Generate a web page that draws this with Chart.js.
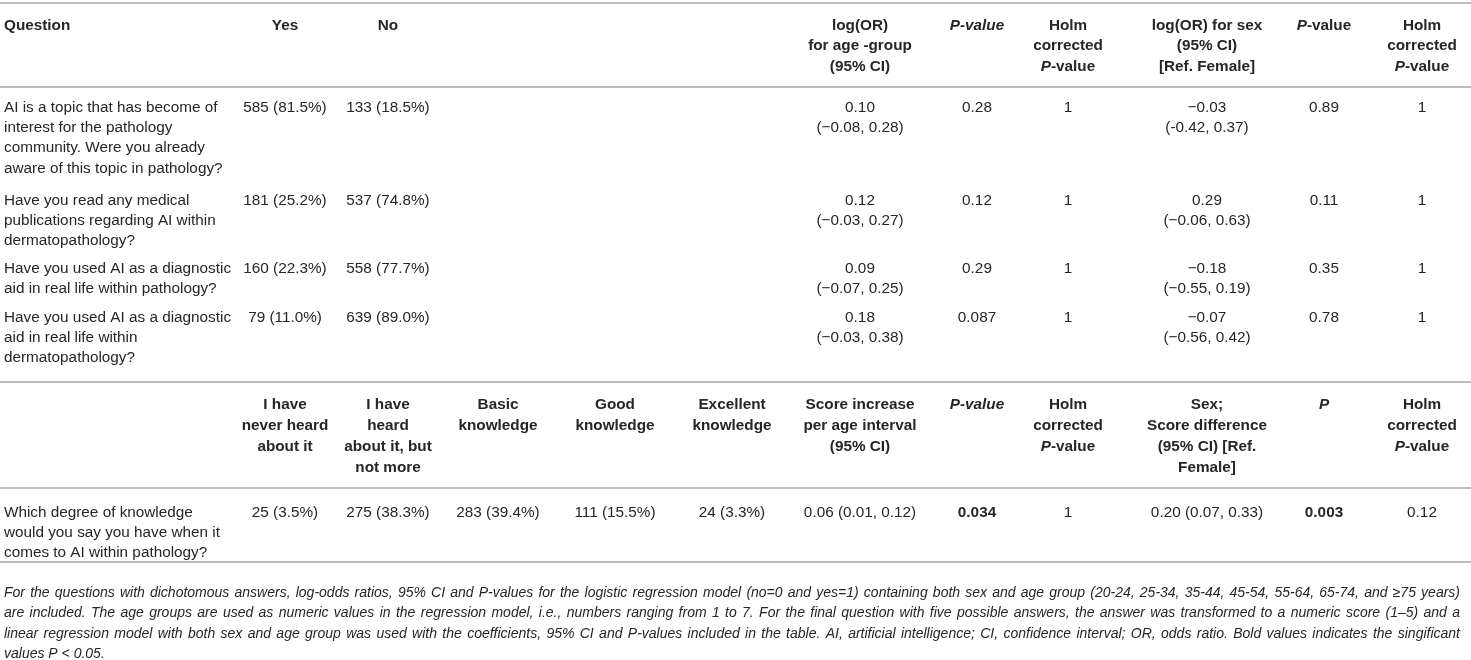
<!DOCTYPE html>
<html>
<head>
<meta charset="utf-8">
<script src="https://cdn.jsdelivr.net/npm/chart.js@4.4.1/dist/chart.umd.min.js"></script>
<style>
  html, body { margin: 0; padding: 0; background: #fff; }
  canvas { display: block; }
</style>
</head>
<body>
<canvas id="tableChart" width="1471" height="660"></canvas>
<script>
// Dichotomous questions (yes / no)
const questions = [
  ["AI is a topic that has become of", "interest for the pathology", "community. Were you already", "aware of this topic in pathology?"],
  ["Have you read any medical", "publications regarding AI within", "dermatopathology?"],
  ["Have you used AI as a diagnostic", "aid in real life within pathology?"],
  ["Have you used AI as a diagnostic", "aid in real life within", "dermatopathology?"],
];
const yesCounts = [585, 181, 160, 79];
const yesPct = [81.5, 25.2, 22.3, 11.0];
const noCounts = [133, 537, 558, 639];
const noPct = [18.5, 74.8, 77.7, 89.0];

// logistic regression, age group
const ageLogOR = [0.10, 0.12, 0.09, 0.18];
const ageCiLow = [-0.08, -0.03, -0.07, -0.03];
const ageCiHigh = [0.28, 0.27, 0.25, 0.38];
const ageP = [0.28, 0.12, 0.29, 0.087];
const ageHolm = [1, 1, 1, 1];

// logistic regression, sex
const sexLogOR = [-0.03, 0.29, -0.18, -0.07];
const sexCiLow = [-0.42, -0.06, -0.55, -0.56];
const sexCiHigh = [0.37, 0.63, 0.19, 0.42];
const sexCiMinus = ["-", "\u2212", "\u2212", "\u2212"];
const sexP = [0.89, 0.11, 0.35, 0.78];
const sexHolm = [1, 1, 1, 1];

// Knowledge question
const knowledgeQuestion = ["Which degree of knowledge", "would you say you have when it", "comes to AI within pathology?"];
const knowledgeCounts = [25, 275, 283, 111, 24];
const knowledgePct = [3.5, 38.3, 39.4, 15.5, 3.3];
const scoreAge = [0.06, 0.01, 0.12];
const scoreAgeP = 0.034;
const scoreAgeHolm = 1;
const scoreSex = [0.20, 0.07, 0.33];
const scoreSexP = 0.003;
const scoreSexHolm = 0.12;

// Column headers (*...* = italic)
const topHeaders = [
  ["Yes"], ["No"], null, null, null,
  ["log(OR)", "for age -group", "(95% CI)"],
  ["*P-value*"],
  ["Holm", "corrected", "*P*-value"],
  ["log(OR) for sex", "(95% CI)", "[Ref. Female]"],
  ["*P*-value"],
  ["Holm", "corrected", "*P*-value"],
];
const knowledgeHeaders = [
  ["I have", "never heard", "about it"],
  ["I have", "heard", "about it, but", "not more"],
  ["Basic", "knowledge"],
  ["Good", "knowledge"],
  ["Excellent", "knowledge"],
  ["Score increase", "per age interval", "(95% CI)"],
  ["*P-value*"],
  ["Holm", "corrected", "*P*-value"],
  ["Sex;", "Score difference", "(95% CI) [Ref.", "Female]"],
  ["*P*"],
  ["Holm", "corrected", "*P*-value"],
];

const footnote = [
  "For the questions with dichotomous answers, log-odds ratios, 95% CI and P-values for the logistic regression model (no=0 and yes=1) containing both sex and age group (20-24, 25-34, 35-44, 45-54, 55-64, 65-74, and \u226575 years)",
  "are included. The age groups are used as numeric values in the regression model, i.e., numbers ranging from 1 to 7. For the final question with five possible answers, the answer was transformed to a numeric score (1\u20135) and a",
  "linear regression model with both sex and age group was used with the coefficients, 95% CI and P-values included in the table. AI, artificial intelligence; CI, confidence interval; OR, odds ratio. Bold values indicates the singificant",
  "values P < 0.05.",
];

// layout (scale units = pixels of the 1471x660 frame)
const colX = [285, 388, 498, 615, 732, 860, 977, 1068, 1207, 1324, 1422];
const questionX = 4;
const rules = [3, 87, 382, 488, 562];
const topHeaderBase = 30;
const rowBase = [112, 205, 273, 322];
const knowHeaderBase = 409;
const knowRowBase = 517;
const footBase = 597;

const FONT = '"Liberation Sans", Arial, Helvetica, sans-serif';
const SIZE = 15.3;
const INK = "#262626";

function fmt2(v, minus) {
  return (v < 0 ? (minus || "\u2212") : "") + Math.abs(v).toFixed(2);
}
function countPct(n, p) {
  return n + " (" + p.toFixed(1) + "%)";
}
function fontOf(bold, italic, size) {
  return (italic ? "italic " : "") + (bold ? "bold " : "") + size + "px " + FONT;
}

function drawRuns(ctx, str, x, y, align, bold, size) {
  const runs = str.split("*").map((t, i) => ({ t, italic: i % 2 === 1 })).filter((r) => r.t);
  let total = 0;
  runs.forEach((r) => {
    ctx.font = fontOf(bold, r.italic, size);
    r.w = ctx.measureText(r.t).width;
    total += r.w;
  });
  let start = align === "center" ? x - total / 2 : x;
  ctx.textAlign = "left";
  runs.forEach((r) => {
    ctx.font = fontOf(bold, r.italic, size);
    ctx.fillText(r.t, start, y);
    start += r.w;
  });
}

const tablePlugin = {
  id: "tableText",
  afterDatasetsDraw(chart) {
    const ctx = chart.ctx;
    const xs = chart.scales.x;
    const ys = chart.scales.y;
    const X = (v) => xs.getPixelForValue(v);
    const Y = (v) => ys.getPixelForValue(v);
    const hLine = 20.4;
    const bLine = 20.2;

    ctx.save();
    ctx.fillStyle = INK;
    ctx.textBaseline = "alphabetic";

    // top header
    drawRuns(ctx, "Question", X(questionX), Y(topHeaderBase), "left", true, SIZE);
    topHeaders.forEach((lines, c) => {
      if (!lines) return;
      lines.forEach((l, k) => drawRuns(ctx, l, X(colX[c]), Y(topHeaderBase + k * hLine), "center", true, SIZE));
    });

    // dichotomous rows
    questions.forEach((q, i) => {
      const b = rowBase[i];
      q.forEach((l, k) => drawRuns(ctx, l, X(questionX), Y(b + k * bLine), "left", false, SIZE));
      const cells = [
        [0, [countPct(yesCounts[i], yesPct[i])]],
        [1, [countPct(noCounts[i], noPct[i])]],
        [5, [fmt2(ageLogOR[i]), "(" + fmt2(ageCiLow[i]) + ", " + fmt2(ageCiHigh[i]) + ")"]],
        [6, [String(ageP[i])]],
        [7, [String(ageHolm[i])]],
        [8, [fmt2(sexLogOR[i]), "(" + fmt2(sexCiLow[i], sexCiMinus[i]) + ", " + fmt2(sexCiHigh[i]) + ")"]],
        [9, [String(sexP[i])]],
        [10, [String(sexHolm[i])]],
      ];
      cells.forEach(([c, lines]) => {
        lines.forEach((l, k) => drawRuns(ctx, l, X(colX[c]), Y(b + k * bLine), "center", false, SIZE));
      });
    });

    // knowledge header
    knowledgeHeaders.forEach((lines, c) => {
      lines.forEach((l, k) => drawRuns(ctx, l, X(colX[c]), Y(knowHeaderBase + k * 20.9), "center", true, SIZE));
    });

    // knowledge row
    knowledgeQuestion.forEach((l, k) => drawRuns(ctx, l, X(questionX), Y(knowRowBase + k * 20), "left", false, SIZE));
    knowledgeCounts.forEach((n, c) => {
      drawRuns(ctx, countPct(n, knowledgePct[c]), X(colX[c]), Y(knowRowBase), "center", false, SIZE);
    });
    const ci = (a) => fmt2(a[0]) + " (" + fmt2(a[1]) + ", " + fmt2(a[2]) + ")";
    const stats = [
      [5, ci(scoreAge), false],
      [6, String(scoreAgeP), scoreAgeP < 0.05],
      [7, String(scoreAgeHolm), scoreAgeHolm < 0.05],
      [8, ci(scoreSex), false],
      [9, String(scoreSexP), scoreSexP < 0.05],
      [10, String(scoreSexHolm), scoreSexHolm < 0.05],
    ];
    stats.forEach(([c, t, bold]) => drawRuns(ctx, t, X(colX[c]), Y(knowRowBase), "center", bold, SIZE));

    // footnote, justified
    const fSize = 14;
    const left = X(questionX);
    const right = X(1460);
    ctx.font = fontOf(false, true, fSize);
    ctx.textAlign = "left";
    footnote.forEach((line, k) => {
      const y = Y(footBase + k * 20.4);
      if (k === footnote.length - 1) {
        ctx.fillText(line, left, y);
        return;
      }
      const words = line.split(" ");
      const widths = words.map((w) => ctx.measureText(w).width);
      const sum = widths.reduce((a, b) => a + b, 0);
      const gap = (right - left - sum) / (words.length - 1);
      let x = left;
      words.forEach((w, j) => {
        ctx.fillText(w, x, y);
        x += widths[j] + gap;
      });
    });

    ctx.restore();
  },
};

document.addEventListener("DOMContentLoaded", function () {
  const ctx = document.getElementById("tableChart").getContext("2d");
  new Chart(ctx, {
    type: "scatter",
    data: {
      datasets: rules.map((y) => ({
        type: "line",
        data: [{ x: 0, y: y }, { x: 1471, y: y }],
        borderColor: "#a6a6a6",
        borderWidth: 1.6,
        pointRadius: 0,
        fill: false,
      })),
    },
    options: {
      responsive: false,
      animation: false,
      events: [],
      layout: { padding: 0 },
      plugins: {
        legend: { display: false },
        tooltip: { enabled: false },
        title: { display: false },
      },
      scales: {
        x: { type: "linear", min: 0, max: 1471, display: false },
        y: { type: "linear", min: 0, max: 660, reverse: true, display: false },
      },
    },
    plugins: [tablePlugin],
  });
});
</script>
</body>
</html>
